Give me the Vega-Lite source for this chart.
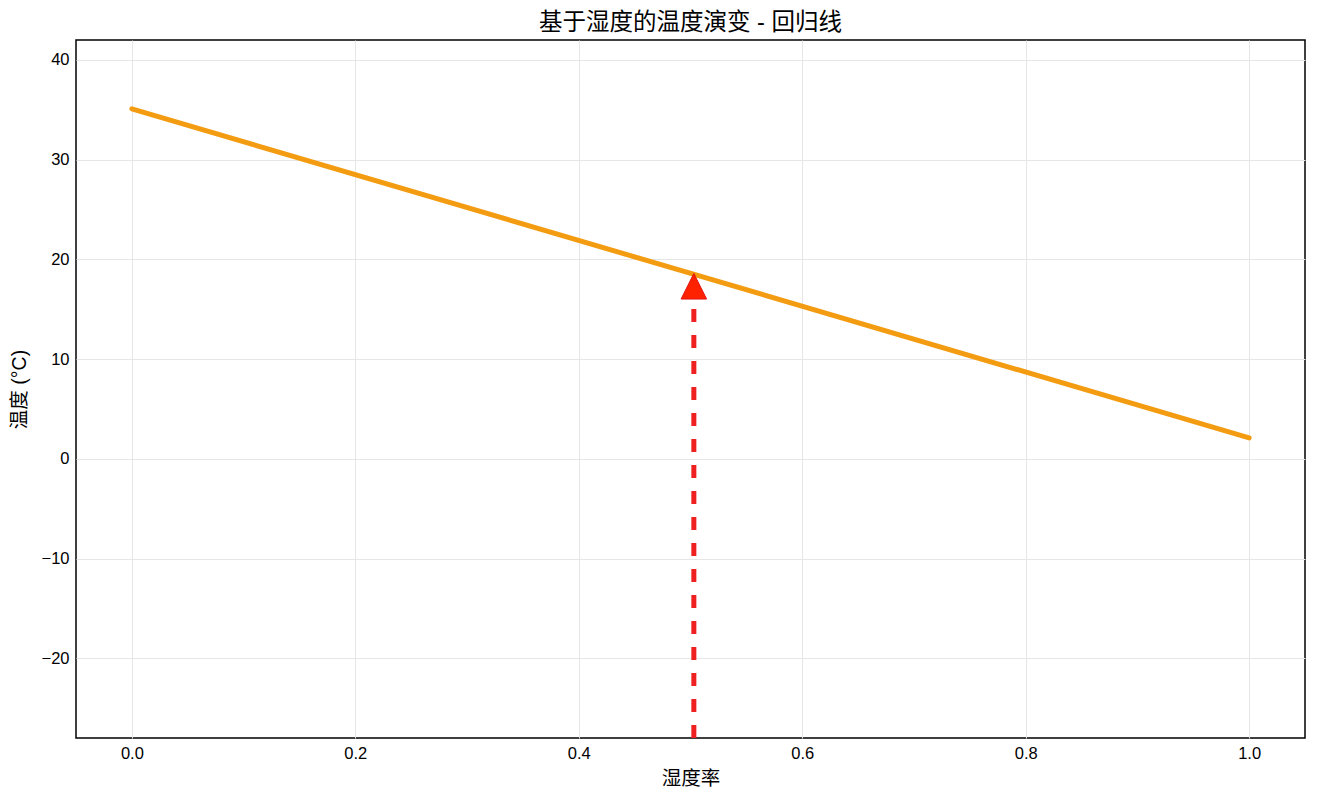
{
  "$schema": "https://vega.github.io/schema/vega-lite/v6.json",
  "autosize": {"type": "none"},
  "width": 1229,
  "height": 698,
  "padding": {"left": 76, "top": 40, "right": 13, "bottom": 62},
  "background": "white",
  "title": {
    "text": "基于湿度的温度演变 - 回归线",
    "font": "Liberation Sans, Noto Sans CJK SC",
    "fontSize": 23.5,
    "fontWeight": "normal",
    "color": "#000000",
    "offset": 6
  },
  "config": {
    "view": {"stroke": "#000000", "strokeWidth": 1.5},
    "axis": {
      "domain": false,
      "ticks": false,
      "grid": true,
      "gridColor": "#e6e6e6",
      "gridWidth": 1,
      "labelFont": "Liberation Sans",
      "labelFontSize": 16.5,
      "labelColor": "#000000",
      "labelPadding": 7,
      "titleFont": "Liberation Sans, Noto Sans CJK SC",
      "titleFontSize": 19.5,
      "titleFontWeight": "normal",
      "titleColor": "#000000"
    }
  },
  "datasets": {
    "fit": [
      {"humidity": 0.0, "temp": 35.1},
      {"humidity": 1.0, "temp": 2.1}
    ],
    "arrow": [
      {"humidity": 0.503, "start": -28, "end": 16, "head": 17.3}
    ]
  },
  "layer": [
    {
      "data": {"name": "fit"},
      "mark": {"type": "line", "color": "#f39c12", "strokeWidth": 5, "strokeCap": "round"},
      "encoding": {
        "x": {
          "field": "humidity",
          "type": "quantitative",
          "title": "湿度率",
          "scale": {"domain": [-0.05, 1.05], "nice": false, "zero": false},
          "axis": {"values": [0, 0.2, 0.4, 0.6, 0.8, 1.0], "format": ".1f", "titlePadding": 8}
        },
        "y": {
          "field": "temp",
          "type": "quantitative",
          "title": "温度 (°C)",
          "scale": {"domain": [-28, 42], "nice": false, "zero": false},
          "axis": {"values": [-20, -10, 0, 10, 20, 30, 40], "titlePadding": 12}
        }
      }
    },
    {
      "data": {"name": "arrow"},
      "mark": {"type": "rule", "color": "#ee2020", "strokeWidth": 5, "strokeDash": [13, 13]},
      "encoding": {
        "x": {"field": "humidity", "type": "quantitative"},
        "y": {"field": "start", "type": "quantitative"},
        "y2": {"field": "end"}
      }
    },
    {
      "data": {"name": "arrow"},
      "mark": {
        "type": "point",
        "shape": "M0,-1L1,1L-1,1Z",
        "size": 650,
        "filled": true,
        "fill": "#ff2200",
        "stroke": "#e01010",
        "strokeWidth": 1,
        "opacity": 1
      },
      "encoding": {
        "x": {"field": "humidity", "type": "quantitative"},
        "y": {"field": "head", "type": "quantitative"}
      }
    }
  ]
}
